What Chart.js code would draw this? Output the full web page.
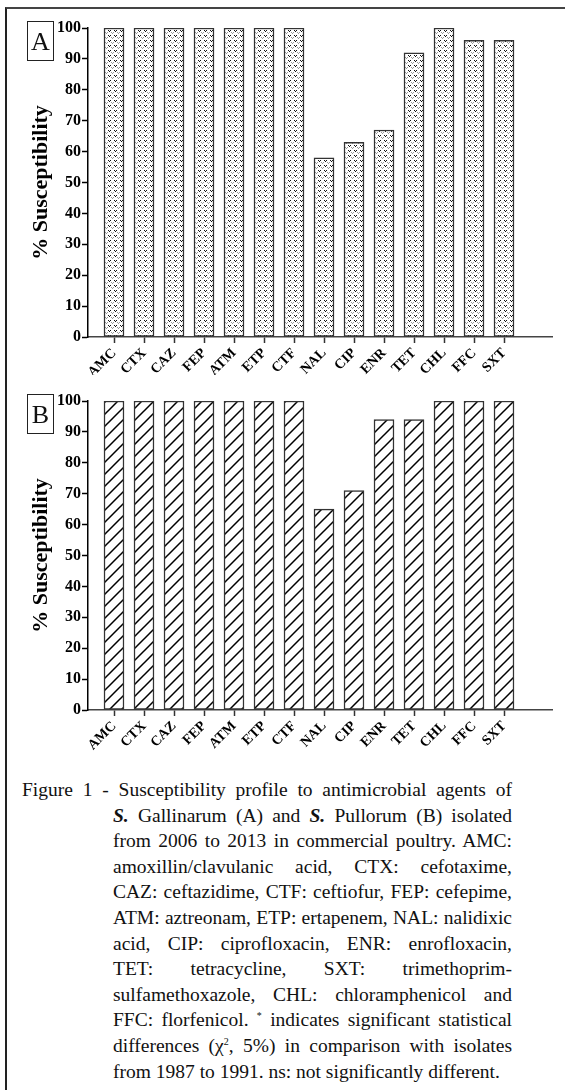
<!DOCTYPE html>
<html>
<head>
<meta charset="utf-8">
<script src="https://cdn.jsdelivr.net/npm/chart.js@4.4.1/dist/chart.umd.min.js"></script>
<style>
  body { margin: 0; background: #fff; }
  #fig { position: relative; width: 565px; height: 1090px; overflow: hidden; font-family: "Liberation Serif", "Times New Roman", serif; color: #111; }
  #frame { position: absolute; left: 5px; top: 7px; right: -5px; bottom: -5px; border-top: 2px solid #444; border-left: 2px solid #222; }
  canvas { position: absolute; left: 0; }
  .tag { position: absolute; left: 27px; width: 25px; height: 38px; border: 1px solid #222; font-size: 26px; line-height: 40px; text-align: center; }
  .cap { position: absolute; font-size: 19.5px; line-height: 25.6px; text-align: justify; text-align-last: justify; white-space: nowrap; }
  .cap.last { text-align-last: left; }
  sup { font-size: 10px; line-height: 0; vertical-align: 7px; }
</style>
</head>
<body>
<div id="fig">
  <div id="frame"></div>
  <canvas id="chartA" width="565" height="375" style="top:0"></canvas>
  <canvas id="chartB" width="565" height="385" style="top:375px"></canvas>
  <div class="tag" style="top:21px">A</div>
  <div class="tag" style="top:394px">B</div>
  <div id="caption"></div>
</div>
<script>
// antimicrobials on the x axis
var categories = ['AMC', 'CTX', 'CAZ', 'FEP', 'ATM', 'ETP', 'CTF', 'NAL', 'CIP', 'ENR', 'TET', 'CHL', 'FFC', 'SXT'];
// % susceptibility, S. Gallinarum (A)
var gallinarum = [100, 100, 100, 100, 100, 100, 100, 58, 63, 67, 92, 100, 96, 96];
// % susceptibility, S. Pullorum (B)
var pullorum = [100, 100, 100, 100, 100, 100, 100, 65, 71, 94, 94, 100, 100, 100];
var yTicks = [0, 10, 20, 30, 40, 50, 60, 70, 80, 90, 100];

var serif = '"Liberation Serif", "Times New Roman", serif';

// stippled fill for panel A
function dotPattern() {
    var c = document.createElement('canvas');
    c.width = 6; c.height = 5;
    var g = c.getContext('2d');
    g.fillStyle = '#fff';
    g.fillRect(0, 0, 6, 5);
    g.fillStyle = '#111';
    g.fillRect(0, 0, 1, 1); g.fillRect(2, 0, 1, 1); g.fillRect(1, 1, 1, 1);
    g.fillStyle = '#999';
    g.fillRect(3, 2, 1, 1); g.fillRect(5, 2, 1, 1); g.fillRect(4, 3, 1, 1);
    return g.createPattern(c, 'repeat');
}

// diagonal hatching for panel B
function hatchPattern() {
    var c = document.createElement('canvas');
    c.width = 12; c.height = 12;
    var g = c.getContext('2d');
    g.fillStyle = '#fff';
    g.fillRect(0, 0, 12, 12);
    g.strokeStyle = '#000';
    g.lineWidth = 1.5;
    g.beginPath();
    g.moveTo(-2, 14); g.lineTo(14, -2);
    g.moveTo(-2, 2); g.lineTo(2, -2);
    g.moveTo(10, 14); g.lineTo(14, 10);
    g.stroke();
    return g.createPattern(c, 'repeat');
}

function makeChart(id, values, fill, xHeight, topPad) {
    return new Chart(document.getElementById(id), {
        type: 'bar',
        data: {
            datasets: [{
                data: values.map(function (v, i) { return { x: i, y: v }; }),
                backgroundColor: fill,
                borderColor: '#333',
                borderWidth: 1.5,
                borderSkipped: false,
                barThickness: 20
            }]
        },
        options: {
            responsive: false,
            animation: false,
            layout: { padding: { top: topPad, right: 13, left: 0, bottom: 0 } },
            plugins: { legend: { display: false }, tooltip: { enabled: false } },
            scales: {
                x: {
                    type: 'linear',
                    offset: false,
                    min: -0.8667,
                    max: 14.6,
                    afterBuildTicks: function (s) {
                        s.ticks = categories.map(function (c, i) { return { value: i }; });
                    },
                    afterFit: function (s) { s.height = xHeight; },
                    ticks: {
                        autoSkip: false,
                        maxRotation: 45,
                        minRotation: 45,
                        padding: 2,
                        color: '#000',
                        font: { family: serif, size: 14, weight: 'bold' },
                        callback: function (v) { return categories[v]; }
                    },
                    grid: { offset: false, drawOnChartArea: false, tickLength: 6, tickColor: '#333', tickWidth: 1.5 },
                    border: { color: '#444', width: 1.5 }
                },
                y: {
                    min: 0,
                    max: 100,
                    afterBuildTicks: function (s) {
                        s.ticks = yTicks.map(function (v) { return { value: v }; });
                    },
                    afterFit: function (s) { s.width = 88; },
                    ticks: {
                        padding: 1,
                        color: '#000',
                        font: { family: serif, size: 16, weight: 'bold' }
                    },
                    grid: { drawOnChartArea: false, tickLength: 6, tickColor: '#000', tickWidth: 1.5 },
                    border: { color: '#000', width: 1.5 },
                    title: {
                        display: true,
                        text: '% Susceptibility',
                        color: '#000',
                        padding: { top: 28, bottom: 0 },
                        font: { family: serif, size: 22, weight: 'bold' }
                    }
                }
            }
        }
    });
}

makeChart('chartA', gallinarum, dotPattern(), 38, 28);
makeChart('chartB', pullorum, hatchPattern(), 50, 26);

// figure caption, one div per printed line
var capLines = [
    'Figure 1 - Susceptibility profile to antimicrobial agents of',
    '<b><i>S.</i></b> Gallinarum (A) and <b><i>S.</i></b> Pullorum (B) isolated',
    'from 2006 to 2013 in commercial poultry. AMC:',
    'amoxillin/clavulanic acid, CTX: cefotaxime,',
    'CAZ: ceftazidime, CTF: ceftiofur, FEP: cefepime,',
    'ATM: aztreonam, ETP: ertapenem, NAL: nalidixic',
    'acid, CIP: ciprofloxacin, ENR: enrofloxacin,',
    'TET: tetracycline, SXT: trimethoprim-',
    'sulfamethoxazole, CHL: chloramphenicol and',
    'FFC: florfenicol. <sup>*</sup> indicates significant statistical',
    'differences (&chi;<sup>2</sup>, 5%) in comparison with isolates',
    'from 1987 to 1991. ns: not significantly different.'
];
var cap = document.getElementById('caption');
capLines.forEach(function (t, i) {
    var d = document.createElement('div');
    d.className = 'cap' + (i === capLines.length - 1 ? ' last' : '');
    d.style.top = (777 + i * 25.6) + 'px';
    d.style.left = (i === 0 ? 22 : 113) + 'px';
    d.style.width = (i === 0 ? 490 : 399) + 'px';
    d.innerHTML = t;
    cap.appendChild(d);
});
</script>
</body>
</html>
